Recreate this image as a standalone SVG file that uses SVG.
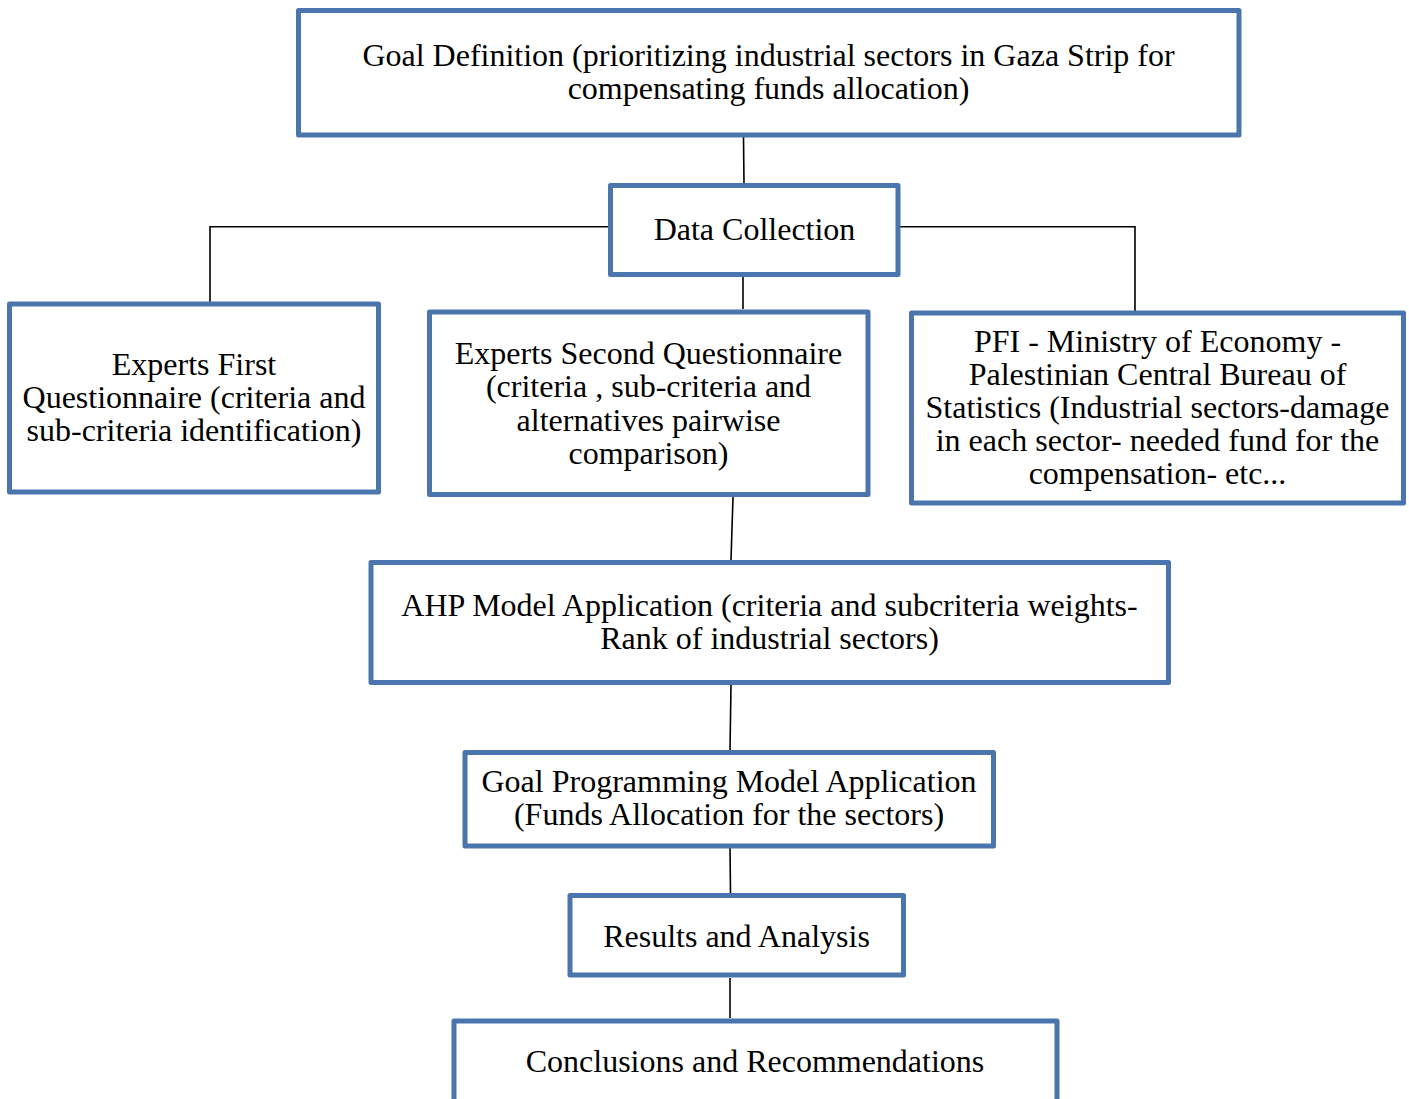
<svg xmlns="http://www.w3.org/2000/svg" width="1409" height="1099" viewBox="0 0 1409 1099">
  <style>
    .box { fill: #ffffff; stroke: #4a75ad; stroke-width: 5; stroke-linejoin: round; }
    .wire { fill: none; stroke: #000000; stroke-width: 1.6; }
    text { font-family: "Liberation Serif", "Times New Roman", serif; font-size: 32px; fill: #000000; text-anchor: middle; }
  </style>
  <rect width="1409" height="1099" fill="#ffffff"/>

  <!-- connectors -->
  <g id="connectors">
    <path class="wire" d="M743.5,137 L744,184"/>
    <path class="wire" d="M608,226.7 L210,226.7 L210,302"/>
    <path class="wire" d="M900,226.7 L1135,226.7 L1135,311"/>
    <path class="wire" d="M743,277 L743,309"/>
    <path class="wire" d="M733,497 L731,560"/>
    <path class="wire" d="M731,685 L730,750"/>
    <path class="wire" d="M730,848 L730.5,893"/>
    <path class="wire" d="M730,978 L730,1018"/>
  </g>

  <g id="goal-definition">
    <rect class="box" x="298.5" y="10.5" width="940.5" height="124.5"/>
    <text x="768.5" y="66">Goal Definition (prioritizing industrial sectors in Gaza Strip for</text>
    <text x="768.5" y="99">compensating funds allocation)</text>
  </g>

  <g id="data-collection">
    <rect class="box" x="610.5" y="185.5" width="287.5" height="89"/>
    <text x="754.5" y="240">Data Collection</text>
  </g>

  <g id="experts-first">
    <rect class="box" x="9.5" y="304" width="369" height="188"/>
    <text x="194" y="375">Experts First</text>
    <text x="194" y="408">Questionnaire (criteria and</text>
    <text x="194" y="441">sub-criteria identification)</text>
  </g>

  <g id="experts-second">
    <rect class="box" x="429.5" y="312" width="438.5" height="182.5"/>
    <text x="648.5" y="364">Experts Second Questionnaire</text>
    <text x="648.5" y="397">(criteria , sub-criteria and</text>
    <text x="648.5" y="431">alternatives pairwise</text>
    <text x="648.5" y="464">comparison)</text>
  </g>

  <g id="data-sources">
    <rect class="box" x="911.5" y="313" width="492" height="190"/>
    <text x="1157.5" y="352">PFI - Ministry of Economy -</text>
    <text x="1157.5" y="385">Palestinian Central Bureau of</text>
    <text x="1157.5" y="418">Statistics (Industrial sectors-damage</text>
    <text x="1157.5" y="451">in each sector- needed fund for the</text>
    <text x="1157.5" y="484">compensation- etc...</text>
  </g>

  <g id="ahp-model">
    <rect class="box" x="371" y="562.5" width="797.5" height="120"/>
    <text x="769.5" y="616">AHP Model Application (criteria and subcriteria weights-</text>
    <text x="769.5" y="649">Rank of industrial sectors)</text>
  </g>

  <g id="goal-programming">
    <rect class="box" x="465" y="752.5" width="528.5" height="93.5"/>
    <text x="729" y="792">Goal Programming Model Application</text>
    <text x="729" y="825">(Funds Allocation for the sectors)</text>
  </g>

  <g id="results">
    <rect class="box" x="570" y="895.5" width="333.5" height="79.5"/>
    <text x="736.5" y="947">Results and Analysis</text>
  </g>

  <g id="conclusions">
    <rect class="box" x="454" y="1021" width="603" height="120"/>
    <text x="755" y="1072">Conclusions and Recommendations</text>
  </g>
</svg>
